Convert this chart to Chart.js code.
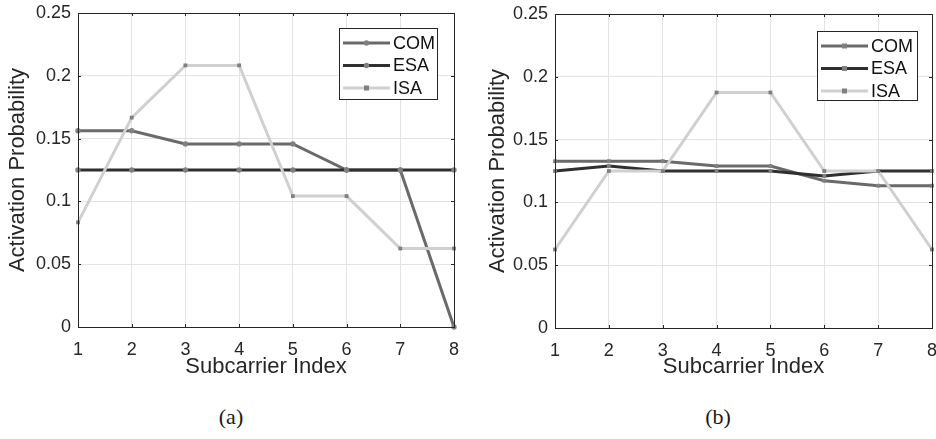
<!DOCTYPE html>
<html>
<head>
<meta charset="utf-8">
<title>Activation Probability</title>
<script src="https://cdn.jsdelivr.net/npm/chart.js@4.4.1/dist/chart.umd.min.js"></script>
<style>
  body { margin: 0; background: #fff; width: 936px; height: 439px; position: relative; overflow: hidden; }
  canvas { position: absolute; top: 0; }
  #chartA { left: 0; }
  #chartB { left: 468px; }
  .cap {
    position: absolute; top: 404px; transform: translateX(-50%);
    font-family: 'Liberation Serif', 'DejaVu Serif', serif; font-size: 22px; color: #1a1a1a;
  }
</style>
</head>
<body>
<canvas id="chartA" width="468" height="380"></canvas>
<canvas id="chartB" width="468" height="380"></canvas>
<div class="cap" style="left:231px">(a)</div>
<div class="cap" style="left:718px">(b)</div>
<script>
const subcarriers = ['1', '2', '3', '4', '5', '6', '7', '8'];
const yTicks = [0, 0.05, 0.1, 0.15, 0.2, 0.25];
const yTickLabels = ['0', '0.05', '0.1', '0.15', '0.2', '0.25'];
const seriesNames = ['COM', 'ESA', 'ISA'];

// panel (a)
const comA = [0.1563, 0.1563, 0.1458, 0.1458, 0.1458, 0.125, 0.125, 0];
const esaA = [0.125, 0.125, 0.125, 0.125, 0.125, 0.125, 0.125, 0.125];
const isaA = [0.0833, 0.1667, 0.2083, 0.2083, 0.1042, 0.1042, 0.0625, 0.0625];

// panel (b)
const comB = [0.1328, 0.1328, 0.1328, 0.1289, 0.1289, 0.1172, 0.1133, 0.1133];
const esaB = [0.125, 0.1289, 0.125, 0.125, 0.125, 0.1211, 0.125, 0.125];
const isaB = [0.0625, 0.125, 0.125, 0.1875, 0.1875, 0.125, 0.125, 0.0625];

const FONT = "'Liberation Sans', Arial, Helvetica, sans-serif";
const AXIS = '#262626';
const lineColors = ['#6a6a6a', '#2f2f2f', '#d0d0d0'];
const markerColor = '#808080';

// box around the plot area plus small inward ticks
const framePlugin = {
  id: 'frame',
  afterDatasetsDraw(chart) {
    const { ctx, chartArea: a, scales } = chart;
    ctx.save();
    ctx.strokeStyle = AXIS;
    ctx.lineWidth = 1;
    ctx.beginPath();
    scales.x.ticks.forEach((t, i) => {
      const px = Math.round(scales.x.getPixelForTick(i)) + 0.5;
      ctx.moveTo(px, a.bottom); ctx.lineTo(px, a.bottom - 3);
      ctx.moveTo(px, a.top); ctx.lineTo(px, a.top + 3);
    });
    scales.y.ticks.forEach(t => {
      const py = Math.round(scales.y.getPixelForValue(t.value)) + 0.5;
      ctx.moveTo(a.left, py); ctx.lineTo(a.left + 3, py);
      ctx.moveTo(a.right, py); ctx.lineTo(a.right - 3, py);
    });
    ctx.stroke();
    ctx.strokeRect(Math.round(a.left) + 0.5, Math.round(a.top) + 0.5,
                   Math.round(a.right - a.left), Math.round(a.bottom - a.top));
    ctx.restore();
  }
};

// legend box drawn inside the top-right corner of the plot
const boxLegend = {
  id: 'boxLegend',
  afterDraw(chart, args, opts) {
    const { ctx, chartArea: a } = chart;
    const w = opts.width, h = opts.height;
    const x = a.right - opts.right - w, y = a.top + opts.top;
    ctx.save();
    ctx.fillStyle = '#fff';
    ctx.fillRect(x, y, w, h);
    ctx.strokeStyle = AXIS;
    ctx.lineWidth = 1;
    ctx.strokeRect(Math.round(x) + 0.5, Math.round(y) + 0.5, w, h);
    ctx.font = '18px ' + FONT;
    ctx.textBaseline = 'middle';
    chart.data.datasets.forEach((ds, i) => {
      const ry = y + 15 + i * 22.5;
      ctx.strokeStyle = ds.borderColor;
      ctx.lineWidth = ds.borderWidth;
      ctx.beginPath();
      ctx.moveTo(x + 4, ry); ctx.lineTo(x + 51, ry);
      ctx.stroke();
      ctx.fillStyle = markerColor;
      if (ds.pointStyle === 'rect') {
        ctx.fillRect(x + 27.5 - 2.5, ry - 2.5, 5, 5);
      } else {
        ctx.beginPath(); ctx.arc(x + 27.5, ry, 2.7, 0, Math.PI * 2); ctx.fill();
      }
      ctx.fillStyle = '#111';
      ctx.fillText(ds.label, x + 54, ry + 1);
    });
    ctx.restore();
  }
};

function makeSet(label, values, color, order, style) {
  return {
    label: label,
    data: values,
    borderColor: color,
    borderWidth: 3,
    pointStyle: style,
    pointRadius: 2.7,
    pointBackgroundColor: markerColor,
    pointBorderWidth: 0,
    tension: 0,
    clip: false,
    order: order
  };
}

// fixed axis sizes, no extra room for overhanging labels
function fixSize(s, w, h) {
  if (w !== null) s.width = w;
  if (h !== null) s.height = h;
  s.paddingLeft = s.paddingRight = s.paddingTop = s.paddingBottom = 0;
}

function makeChart(id, sets, pad, axisWidth, titlePad, legendPos) {
  return new Chart(document.getElementById(id), {
    type: 'line',
    data: { labels: subcarriers, datasets: sets },
    options: {
      responsive: false,
      animation: false,
      layout: { padding: { top: pad.top, right: pad.right, left: 0, bottom: 0 } },
      plugins: {
        legend: { display: false },
        tooltip: { enabled: false },
        boxLegend: legendPos
      },
      scales: {
        x: {
          type: 'category',
          offset: false,
          grid: { color: '#e3e3e3', drawTicks: false, lineWidth: 1 },
          border: { display: false },
          ticks: { color: AXIS, padding: 12, maxRotation: 0, font: { family: FONT, size: 18 } },
          title: { display: true, text: 'Subcarrier Index', color: AXIS,
                   padding: { top: 0, bottom: 0 }, font: { family: FONT, size: 22 } },
          afterFit(s) { fixSize(s, null, pad.xAxis); }
        },
        y: {
          min: 0, max: 0.25,
          afterBuildTicks(s) { s.ticks = yTicks.map(v => ({ value: v })); },
          grid: { color: '#e3e3e3', drawTicks: false, lineWidth: 1 },
          border: { display: false },
          ticks: {
            color: AXIS, padding: 7, font: { family: FONT, size: 18 },
            callback(v) { return yTickLabels[yTicks.indexOf(v)]; }
          },
          title: { display: true, text: 'Activation Probability', color: AXIS,
                   padding: { top: titlePad, bottom: 0 }, font: { family: FONT, size: 22 } },
          afterFit(s) { fixSize(s, axisWidth, null); }
        }
      }
    },
    plugins: [framePlugin, boxLegend]
  });
}

makeChart('chartA', [
  makeSet(seriesNames[0], comA, lineColors[0], 2, 'circle'),
  makeSet(seriesNames[1], esaA, lineColors[1], 1, 'circle'),
  makeSet(seriesNames[2], isaA, lineColors[2], 0, 'rect')
], { top: 13, right: 14, xAxis: 53 }, 78, 5, { right: 17, top: 15, width: 98, height: 71 });

makeChart('chartB', [
  makeSet(seriesNames[0], comB, lineColors[0], 2, 'rect'),
  makeSet(seriesNames[1], esaB, lineColors[1], 1, 'rect'),
  makeSet(seriesNames[2], isaB, lineColors[2], 0, 'rect')
], { top: 14, right: 4, xAxis: 52 }, 87, 17, { right: 15, top: 17, width: 100, height: 69 });
</script>
</body>
</html>
